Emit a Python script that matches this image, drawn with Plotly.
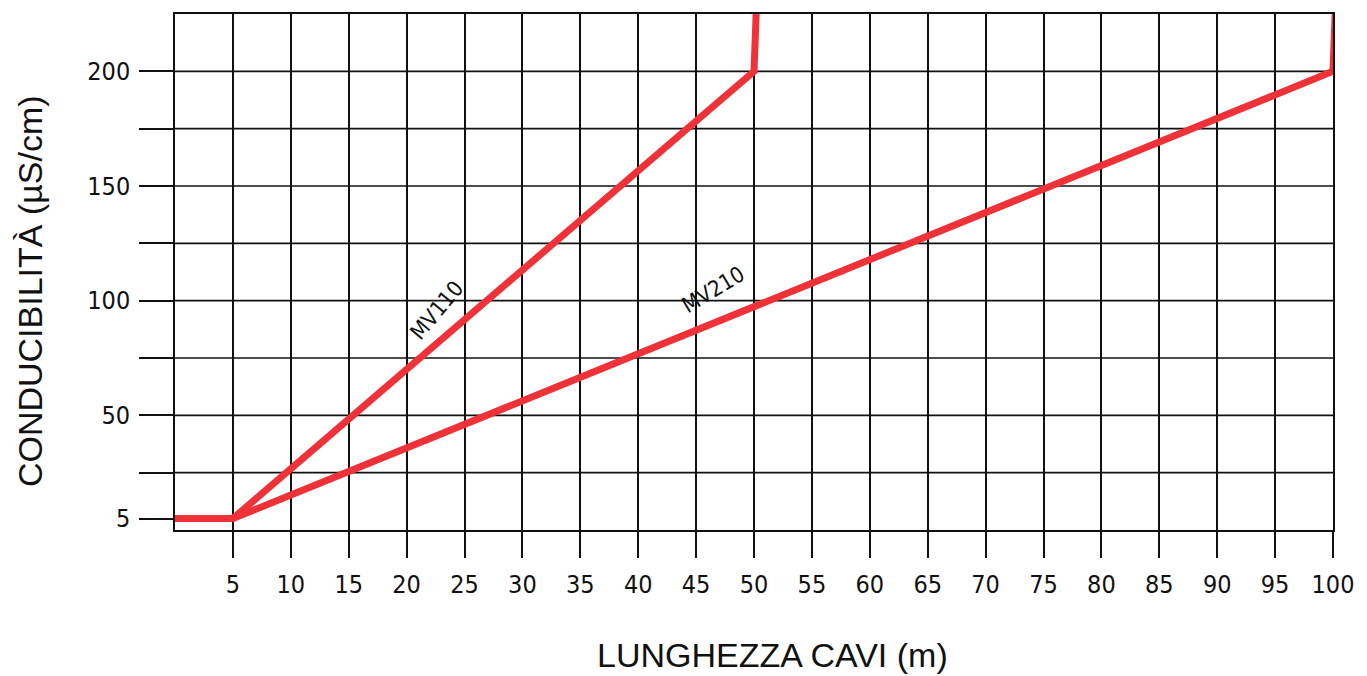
import plotly.graph_objects as go

# Data
mv110_x = [0, 5, 50, 50.2]
mv110_y = [5, 5, 200, 227]
mv210_x = [0, 5, 100, 100.2]
mv210_y = [5, 5, 200, 227]

x_ticks = [5, 10, 15, 20, 25, 30, 35, 40, 45, 50, 55, 60, 65, 70, 75, 80, 85, 90, 95, 100]
x_labels = [str(v) for v in x_ticks]
y_ticks = [5, 25, 50, 75, 100, 125, 150, 175, 200]
y_labels = ["5", "", "50", "", "100", "", "150", "", "200"]
y_grid = [25, 50, 75, 100, 125, 150, 175, 200]

RED = "#EE3237"
tick_font = dict(family="DejaVu Sans Condensed, Liberation Sans Narrow, Liberation Sans", size=25, color="#111111")

fig = go.Figure()
fig.add_trace(go.Scatter(x=mv110_x, y=mv110_y, mode="lines", name="MV110",
                         line=dict(color=RED, width=7), cliponaxis=False, showlegend=False))
fig.add_trace(go.Scatter(x=mv210_x, y=mv210_y, mode="lines", name="MV210",
                         line=dict(color=RED, width=7), cliponaxis=False, showlegend=False))

for g in y_grid:
    fig.add_shape(type="line", xref="x", yref="y", x0=0, x1=100, y0=g, y1=g,
                  line=dict(color="#111111", width=1.6), layer="below")

fig.add_annotation(x=22.6, y=95.6, xref="x", yref="y", text="MV110", showarrow=False,
                   textangle=-50, font=dict(family="DejaVu Sans Condensed, Liberation Sans", size=22, color="#111111"))
fig.add_annotation(x=46.5, y=104.8, xref="x", yref="y", text="MV210", showarrow=False,
                   textangle=-31, font=dict(family="DejaVu Sans Condensed, Liberation Sans", size=22, color="#111111"))

fig.add_annotation(x=0.516, y=0, xref="paper", yref="paper", yshift=-125, text="LUNGHEZZA CAVI (m)",
                   showarrow=False, yanchor="middle",
                   font=dict(family="Liberation Sans", size=34, color="#111111"))
fig.add_annotation(x=0, y=0.463, xref="paper", yref="paper", xshift=-145, text="CONDUCIBILITÀ (µS/cm)",
                   showarrow=False, textangle=-90, xanchor="center", yanchor="middle",
                   font=dict(family="Liberation Sans", size=34, color="#111111"))

fig.update_layout(
    width=1367, height=676,
    margin=dict(l=175, r=34, t=12, b=146),
    paper_bgcolor="white", plot_bgcolor="white",
    xaxis=dict(range=[0, 100], tickvals=x_ticks, ticktext=x_labels, ticks="outside", ticklen=26,
               tickwidth=1.6, tickcolor="#111111", showgrid=True, gridcolor="#111111", gridwidth=1.6,
               showline=True, linecolor="#111111", linewidth=1.6, mirror=True, zeroline=False,
               tickfont=tick_font, ticklabelstandoff=5),
    yaxis=dict(range=[0, 225], tickvals=y_ticks, ticktext=y_labels, ticks="outside", ticklen=34,
               tickwidth=1.6, tickcolor="#111111", showgrid=False,
               showline=True, linecolor="#111111", linewidth=1.6, mirror=True, zeroline=False,
               tickfont=tick_font, ticklabelstandoff=4),
)

fig.write_html("out.html", config={"displayModeBar": False},
               post_script="document.body.style.margin='0';document.body.style.overflow='hidden';")
